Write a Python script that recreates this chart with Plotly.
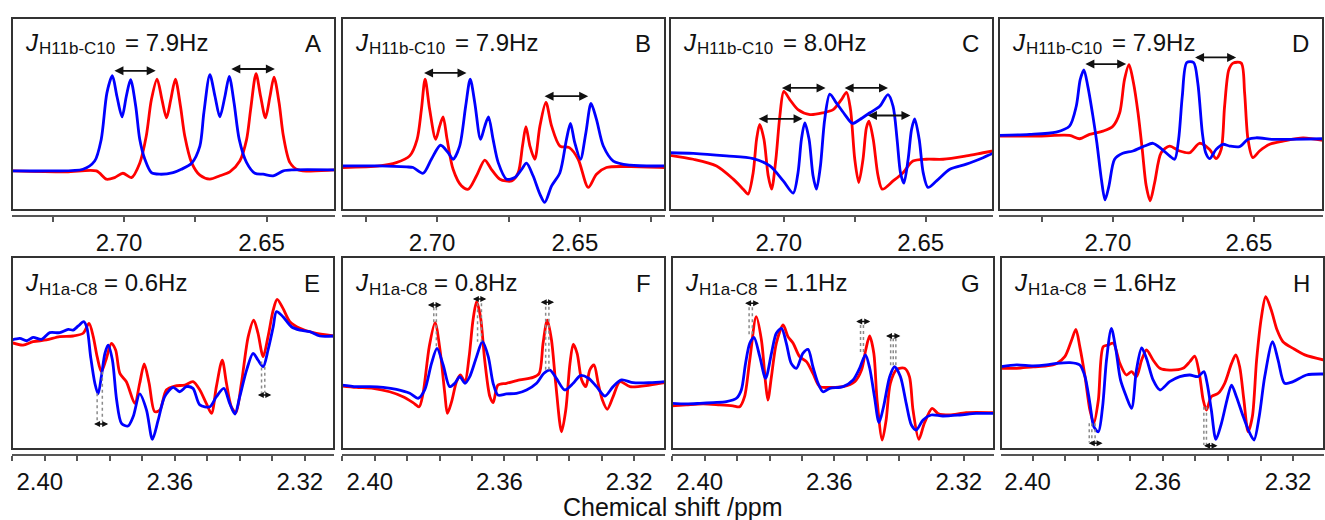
import plotly.graph_objects as go

# ---------------- data (ppm, relative intensity) ----------------
A_blue_x = [2.7393, 2.7261, 2.7144, 2.7103, 2.7080, 2.7060, 2.7041, 2.7025, 2.7007, 2.6992, 2.6977, 2.6959, 2.6945, 2.6927, 2.6904, 2.6875, 2.6828, 2.6799, 2.6763, 2.6734, 2.6720, 2.6699, 2.6681, 2.6664, 2.6646, 2.6631, 2.6614, 2.6596, 2.6570, 2.6541, 2.6512, 2.6477, 2.6441, 2.6406, 2.6260]
A_blue_y = [22.4, 22.4, 23.2, 27.4, 38.4, 62.0, 70.7, 60.3, 49.8, 60.3, 68.7, 55.2, 38.4, 28.3, 21.5, 20.7, 21.5, 23.2, 26.3, 35.0, 51.9, 71.2, 60.3, 49.8, 60.3, 70.4, 56.9, 38.4, 26.6, 21.2, 20.7, 19.9, 22.4, 22.9, 22.9]
A_red_x = [2.7393, 2.7203, 2.7097, 2.7062, 2.7033, 2.7004, 2.6974, 2.6945, 2.6922, 2.6904, 2.6884, 2.6867, 2.6851, 2.6836, 2.6820, 2.6802, 2.6787, 2.6763, 2.6734, 2.6699, 2.6664, 2.6629, 2.6594, 2.6570, 2.6556, 2.6537, 2.6521, 2.6504, 2.6488, 2.6474, 2.6456, 2.6441, 2.6418, 2.6389, 2.6260]
A_red_y = [22.4, 21.9, 22.4, 18.2, 19.0, 21.2, 19.0, 26.3, 40.1, 58.6, 69.0, 58.6, 49.3, 58.6, 69.0, 55.2, 40.1, 26.6, 20.2, 18.2, 19.9, 21.9, 27.4, 38.4, 53.5, 71.7, 60.3, 49.3, 60.3, 70.0, 56.9, 40.1, 26.6, 22.9, 22.9]

B_blue_x = [2.7333, 2.7201, 2.7107, 2.7084, 2.7049, 2.7020, 2.6988, 2.6961, 2.6944, 2.6921, 2.6900, 2.6884, 2.6868, 2.6848, 2.6833, 2.6820, 2.6804, 2.6786, 2.6757, 2.6728, 2.6704, 2.6687, 2.6664, 2.6640, 2.6623, 2.6599, 2.6570, 2.6547, 2.6533, 2.6518, 2.6498, 2.6479, 2.6461, 2.6442, 2.6418, 2.6383, 2.6325, 2.6202]
B_blue_y = [24.9, 24.9, 24.4, 24.1, 21.2, 28.3, 35.4, 31.6, 28.3, 35.0, 55.2, 69.0, 56.9, 38.4, 45.1, 49.8, 38.4, 26.6, 18.2, 19.0, 23.2, 26.3, 19.9, 10.6, 6.4, 14.8, 21.5, 38.4, 46.5, 36.7, 28.3, 41.8, 56.6, 48.5, 35.0, 27.4, 25.3, 24.9]
B_red_x = [2.7333, 2.7201, 2.7143, 2.7096, 2.7070, 2.7055, 2.7042, 2.7026, 2.7005, 2.6991, 2.6979, 2.6965, 2.6944, 2.6915, 2.6891, 2.6862, 2.6833, 2.6810, 2.6780, 2.6739, 2.6716, 2.6701, 2.6689, 2.6675, 2.6658, 2.6640, 2.6619, 2.6599, 2.6570, 2.6537, 2.6506, 2.6471, 2.6442, 2.6407, 2.6325, 2.6202]
B_red_y = [24.1, 24.9, 26.6, 30.0, 38.4, 53.5, 69.0, 53.5, 38.4, 45.1, 49.8, 38.4, 23.2, 14.8, 13.1, 19.9, 27.9, 23.2, 18.2, 17.3, 21.5, 35.0, 44.8, 35.0, 28.3, 45.1, 57.2, 45.1, 35.0, 34.2, 28.3, 14.0, 20.7, 24.1, 24.6, 24.1]

C_blue_x = [2.7401, 2.7319, 2.7202, 2.7108, 2.7049, 2.7002, 2.6967, 2.6950, 2.6938, 2.6926, 2.6911, 2.6897, 2.6885, 2.6871, 2.6856, 2.6838, 2.6815, 2.6785, 2.6758, 2.6732, 2.6697, 2.6662, 2.6633, 2.6615, 2.6601, 2.6589, 2.6577, 2.6562, 2.6550, 2.6539, 2.6523, 2.6509, 2.6492, 2.6462, 2.6415, 2.6357, 2.6298, 2.6263]
C_blue_y = [31.6, 31.3, 30.0, 28.6, 24.9, 17.3, 11.1, 21.5, 38.4, 46.8, 38.4, 19.9, 13.1, 24.9, 48.5, 61.4, 56.9, 51.0, 46.5, 48.5, 51.9, 55.2, 61.1, 55.2, 38.4, 21.5, 16.2, 28.3, 43.4, 48.8, 38.4, 21.5, 14.0, 17.3, 23.2, 25.8, 29.1, 31.3]
C_red_x = [2.7401, 2.7319, 2.7237, 2.7178, 2.7143, 2.7126, 2.7108, 2.7096, 2.7085, 2.7070, 2.7055, 2.7043, 2.7028, 2.7014, 2.7000, 2.6979, 2.6950, 2.6908, 2.6862, 2.6826, 2.6797, 2.6779, 2.6765, 2.6750, 2.6736, 2.6721, 2.6709, 2.6700, 2.6685, 2.6668, 2.6653, 2.6615, 2.6580, 2.6545, 2.6498, 2.6439, 2.6357, 2.6298, 2.6263]
C_red_y = [30.3, 28.3, 24.9, 18.2, 13.1, 10.6, 21.5, 38.4, 46.0, 38.4, 19.9, 13.1, 28.3, 50.2, 62.8, 58.6, 53.5, 51.0, 51.9, 53.5, 58.6, 62.3, 53.5, 28.3, 16.5, 28.3, 44.3, 47.6, 38.4, 19.9, 13.1, 17.3, 21.5, 27.4, 28.3, 28.3, 30.0, 31.6, 32.5]

D_blue_x = [2.7404, 2.7296, 2.7201, 2.7154, 2.7130, 2.7116, 2.7103, 2.7089, 2.7071, 2.7057, 2.7041, 2.7028, 2.7014, 2.6994, 2.6965, 2.6929, 2.6888, 2.6858, 2.6829, 2.6799, 2.6781, 2.6767, 2.6754, 2.6738, 2.6714, 2.6699, 2.6683, 2.6671, 2.6657, 2.6634, 2.6610, 2.6586, 2.6551, 2.6521, 2.6492, 2.6433, 2.6374, 2.6255]
D_blue_y = [40.4, 40.9, 42.1, 45.1, 55.2, 68.7, 73.7, 65.3, 50.2, 36.7, 18.2, 7.7, 14.8, 28.3, 31.3, 32.5, 35.0, 36.4, 33.7, 30.0, 28.3, 38.4, 60.3, 77.4, 77.4, 67.0, 41.8, 31.6, 28.6, 33.3, 35.9, 35.0, 34.7, 38.4, 39.2, 38.4, 38.4, 38.7]
D_red_x = [2.7404, 2.7260, 2.7154, 2.7118, 2.7083, 2.7035, 2.7000, 2.6976, 2.6959, 2.6943, 2.6927, 2.6911, 2.6896, 2.6882, 2.6868, 2.6852, 2.6829, 2.6799, 2.6764, 2.6728, 2.6693, 2.6657, 2.6634, 2.6616, 2.6604, 2.6589, 2.6574, 2.6545, 2.6533, 2.6521, 2.6504, 2.6480, 2.6444, 2.6397, 2.6326, 2.6255]
D_red_y = [40.1, 40.1, 40.4, 38.7, 40.9, 42.6, 45.1, 51.9, 68.7, 76.3, 67.0, 51.9, 33.3, 14.8, 7.2, 16.5, 31.6, 35.0, 32.5, 31.6, 36.4, 33.3, 28.6, 33.3, 55.2, 73.7, 77.1, 77.1, 62.0, 38.4, 29.1, 32.5, 35.9, 37.5, 39.2, 37.9]

E_blue_x = [2.4101, 2.4077, 2.4056, 2.4036, 2.4010, 2.3985, 2.3954, 2.3928, 2.3913, 2.3897, 2.3880, 2.3870, 2.3859, 2.3846, 2.3836, 2.3826, 2.3815, 2.3805, 2.3792, 2.3779, 2.3764, 2.3744, 2.3728, 2.3708, 2.3687, 2.3669, 2.3651, 2.3631, 2.3605, 2.3585, 2.3564, 2.3544, 2.3523, 2.3492, 2.3472, 2.3449, 2.3431, 2.3415, 2.3400, 2.3379, 2.3359, 2.3344, 2.3328, 2.3313, 2.3297, 2.3287, 2.3267, 2.3241, 2.3215, 2.3185, 2.3154, 2.3110]
E_blue_y = [57.9, 58.7, 57.5, 59.2, 58.2, 61.6, 61.6, 63.3, 62.9, 65.0, 67.2, 63.8, 49.4, 35.9, 30.5, 39.3, 51.1, 55.3, 47.7, 27.4, 15.6, 14.2, 19.0, 30.5, 22.3, 7.4, 17.3, 29.1, 33.8, 31.6, 34.2, 33.3, 24.9, 24.0, 29.1, 33.3, 25.7, 20.3, 29.1, 42.6, 51.1, 47.7, 44.3, 52.8, 64.6, 72.3, 69.7, 64.6, 62.9, 62.1, 59.9, 59.9]
E_red_x = [2.4101, 2.4067, 2.4036, 2.3995, 2.3954, 2.3913, 2.3882, 2.3864, 2.3851, 2.3839, 2.3826, 2.3812, 2.3795, 2.3782, 2.3769, 2.3749, 2.3723, 2.3708, 2.3694, 2.3679, 2.3662, 2.3646, 2.3626, 2.3600, 2.3569, 2.3544, 2.3523, 2.3503, 2.3487, 2.3472, 2.3454, 2.3441, 2.3426, 2.3412, 2.3395, 2.3374, 2.3357, 2.3344, 2.3328, 2.3313, 2.3297, 2.3285, 2.3267, 2.3246, 2.3215, 2.3174, 2.3110]
E_red_y = [56.5, 55.3, 57.0, 57.9, 59.6, 59.9, 61.3, 66.3, 59.6, 49.4, 41.8, 47.7, 56.2, 52.8, 40.9, 36.7, 25.7, 35.9, 45.7, 35.9, 21.5, 22.3, 32.5, 34.5, 35.0, 36.7, 32.5, 25.7, 20.6, 34.2, 47.7, 35.9, 24.0, 21.0, 35.9, 59.6, 68.0, 61.3, 49.4, 59.6, 73.1, 78.5, 73.9, 67.2, 63.8, 61.6, 59.9]

F_blue_x = [2.4101, 2.4057, 2.4015, 2.3974, 2.3933, 2.3892, 2.3866, 2.3846, 2.3825, 2.3808, 2.3789, 2.3769, 2.3753, 2.3738, 2.3722, 2.3707, 2.3686, 2.3668, 2.3650, 2.3635, 2.3620, 2.3594, 2.3563, 2.3532, 2.3501, 2.3479, 2.3460, 2.3440, 2.3414, 2.3388, 2.3366, 2.3342, 2.3316, 2.3290, 2.3265, 2.3239, 2.3203, 2.3152, 2.3105]
F_blue_y = [35.0, 34.2, 34.2, 33.8, 32.8, 30.8, 28.3, 32.5, 46.0, 53.6, 45.2, 34.2, 35.9, 39.3, 35.9, 39.3, 49.4, 57.0, 49.4, 35.9, 29.9, 30.5, 30.8, 32.5, 35.9, 40.9, 42.6, 38.4, 32.5, 35.9, 39.8, 38.6, 34.2, 29.4, 34.2, 37.6, 36.2, 36.2, 36.7]
F_red_x = [2.4101, 2.4057, 2.4005, 2.3954, 2.3913, 2.3882, 2.3863, 2.3851, 2.3832, 2.3814, 2.3799, 2.3784, 2.3776, 2.3763, 2.3748, 2.3736, 2.3722, 2.3709, 2.3697, 2.3686, 2.3674, 2.3661, 2.3645, 2.3635, 2.3620, 2.3594, 2.3553, 2.3512, 2.3493, 2.3481, 2.3468, 2.3455, 2.3442, 2.3424, 2.3411, 2.3398, 2.3388, 2.3376, 2.3362, 2.3349, 2.3337, 2.3324, 2.3311, 2.3298, 2.3283, 2.3265, 2.3244, 2.3213, 2.3152, 2.3105]
F_red_y = [34.5, 33.8, 33.3, 31.6, 29.1, 26.1, 24.0, 30.8, 54.5, 66.7, 53.1, 30.8, 20.6, 26.6, 36.7, 40.1, 36.7, 49.4, 68.0, 77.3, 69.7, 47.7, 29.1, 26.1, 35.0, 35.9, 37.6, 38.9, 40.9, 56.2, 68.0, 57.9, 35.9, 11.3, 22.3, 46.0, 55.7, 51.1, 37.6, 34.2, 42.6, 45.2, 35.9, 27.4, 22.7, 29.1, 36.7, 34.2, 35.0, 36.2]

G_blue_x = [2.4101, 2.4057, 2.4015, 2.3974, 2.3933, 2.3902, 2.3887, 2.3874, 2.3861, 2.3848, 2.3830, 2.3812, 2.3794, 2.3779, 2.3763, 2.3748, 2.3733, 2.3717, 2.3697, 2.3681, 2.3666, 2.3650, 2.3635, 2.3614, 2.3573, 2.3542, 2.3522, 2.3504, 2.3491, 2.3476, 2.3462, 2.3448, 2.3429, 2.3414, 2.3396, 2.3378, 2.3362, 2.3347, 2.3326, 2.3301, 2.3265, 2.3213, 2.3162, 2.3107]
G_blue_y = [25.7, 25.4, 25.7, 26.1, 26.6, 28.3, 32.5, 46.0, 56.2, 59.2, 49.4, 38.4, 51.1, 61.3, 63.8, 56.2, 46.0, 43.5, 51.1, 53.1, 44.3, 35.9, 31.6, 33.3, 34.2, 37.6, 43.5, 50.3, 43.8, 29.1, 15.9, 24.0, 39.3, 44.3, 39.3, 25.7, 14.7, 12.2, 17.3, 19.8, 19.3, 19.8, 20.6, 20.6]
G_red_x = [2.4101, 2.4057, 2.4005, 2.3954, 2.3913, 2.3892, 2.3877, 2.3861, 2.3841, 2.3825, 2.3812, 2.3805, 2.3794, 2.3779, 2.3758, 2.3743, 2.3727, 2.3707, 2.3686, 2.3666, 2.3645, 2.3614, 2.3573, 2.3537, 2.3516, 2.3503, 2.3491, 2.3478, 2.3468, 2.3452, 2.3440, 2.3427, 2.3407, 2.3383, 2.3368, 2.3357, 2.3339, 2.3322, 2.3298, 2.3280, 2.3244, 2.3193, 2.3107]
G_red_y = [24.4, 24.9, 25.4, 24.9, 24.4, 24.0, 29.1, 47.7, 69.7, 57.9, 35.9, 27.4, 39.3, 56.2, 65.5, 59.6, 56.2, 49.4, 46.9, 40.9, 34.2, 33.8, 34.2, 36.7, 42.6, 52.8, 59.9, 51.1, 27.4, 7.1, 17.3, 35.9, 43.0, 43.5, 39.3, 22.3, 7.4, 15.6, 23.2, 20.6, 19.8, 21.0, 21.0]

H_blue_x = [2.4097, 2.4049, 2.3998, 2.3957, 2.3926, 2.3885, 2.3855, 2.3839, 2.3824, 2.3812, 2.3798, 2.3785, 2.3773, 2.3758, 2.3744, 2.3730, 2.3712, 2.3696, 2.3681, 2.3665, 2.3650, 2.3630, 2.3609, 2.3579, 2.3548, 2.3517, 2.3492, 2.3474, 2.3464, 2.3451, 2.3437, 2.3420, 2.3403, 2.3389, 2.3374, 2.3353, 2.3335, 2.3320, 2.3304, 2.3287, 2.3263, 2.3246, 2.3226, 2.3200, 2.3159, 2.3105]
H_blue_y = [44.3, 45.2, 44.7, 45.2, 46.0, 46.4, 45.2, 39.3, 25.7, 13.9, 11.3, 24.0, 47.7, 63.8, 52.8, 37.6, 29.1, 23.2, 42.6, 53.8, 48.4, 37.6, 32.5, 36.7, 39.3, 40.1, 39.3, 41.8, 35.9, 22.3, 7.4, 15.6, 27.4, 35.0, 29.1, 19.0, 11.3, 7.1, 19.0, 39.3, 57.0, 47.7, 35.9, 36.7, 40.1, 40.6]
H_red_x = [2.4097, 2.4049, 2.3998, 2.3957, 2.3926, 2.3901, 2.3880, 2.3867, 2.3855, 2.3839, 2.3824, 2.3812, 2.3798, 2.3783, 2.3768, 2.3752, 2.3732, 2.3712, 2.3696, 2.3681, 2.3665, 2.3650, 2.3630, 2.3609, 2.3579, 2.3538, 2.3517, 2.3502, 2.3488, 2.3476, 2.3466, 2.3451, 2.3430, 2.3410, 2.3389, 2.3376, 2.3364, 2.3351, 2.3338, 2.3325, 2.3312, 2.3297, 2.3284, 2.3267, 2.3249, 2.3231, 2.3200, 2.3164, 2.3105]
H_red_y = [43.5, 43.5, 44.3, 44.7, 46.0, 49.4, 57.9, 63.3, 54.5, 39.3, 22.3, 15.6, 27.4, 54.5, 55.3, 56.2, 46.0, 40.1, 41.8, 39.3, 47.7, 52.8, 47.7, 43.5, 42.6, 43.5, 46.9, 49.7, 40.9, 27.4, 22.3, 29.1, 30.8, 35.9, 46.0, 50.3, 44.3, 27.4, 11.3, 19.0, 47.7, 69.7, 79.9, 73.1, 62.9, 57.0, 53.6, 50.3, 47.7]

# coupling-constant labels
TOP_SUB = "H11b-C10"
BOTTOM_SUB = "H1a-C8"
J_VALUES = ["7.9Hz", "7.9Hz", "8.0Hz", "7.9Hz", "0.6Hz", "0.8Hz", "1.1Hz", "1.6Hz"]
PANEL_LETTERS = ["A", "B", "C", "D", "E", "F", "G", "H"]

# double arrows: (ppm start, ppm end, intensity)
ARROWS = {
    "A": [(2.7039, 2.6889, 73.2), (2.6629, 2.6471, 74.1)],
    "B": [(2.7051, 2.6897, 72.1), (2.6629, 2.6471, 60.3)],
    "C": [(2.7012, 2.6853, 64.5), (2.6791, 2.6633, 64.5), (2.7094, 2.6934, 48.8), (2.6709, 2.6554, 50.5)],
    "D": [(2.7103, 2.6953, 76.6), (2.6714, 2.6563, 80.0)],
    "E": [(2.3853, 2.3805, 15.2), (2.3349, 2.3303, 29.9)],
    "F": [(2.3841, 2.3794, 75.6), (2.3702, 2.3656, 78.7), (2.3493, 2.3447, 77.0)],
    "G": [(2.3880, 2.3832, 76.5), (2.3537, 2.3489, 67.2), (2.3445, 2.3396, 59.9)],
    "H": [(2.3832, 2.3785, 5.4), (2.3478, 2.3432, 4.2)],
}
# dotted guides: (ppm, intensity from, intensity to)
GUIDES = {
    "E": [(2.3839, 30.8, 16.9), (2.3823, 41.8, 16.9), (2.3333, 46.9, 31.1), (2.3323, 44.3, 31.1)],
    "F": [(2.3818, 74.5, 65.6), (2.3810, 74.5, 53.6), (2.3683, 76.5, 57.0), (2.3671, 76.5, 57.0), (2.3473, 74.8, 42.6), (2.3463, 74.8, 42.6)],
    "G": [(2.3863, 74.5, 59.6), (2.3853, 74.5, 59.6), (2.3519, 65.5, 51.1), (2.3510, 65.5, 51.1), (2.3426, 58.7, 44.3), (2.3418, 58.7, 44.3), (2.3410, 58.7, 44.3)],
    "H": [(2.3826, 15.6, 5.8), (2.3818, 15.6, 5.8), (2.3808, 15.6, 5.8), (2.3474, 24.0, 4.6), (2.3466, 24.0, 4.6)],
}

TOP_TICKS = [2.725, 2.70, 2.675, 2.65, 2.625]
TOP_TICKTEXT = ["", "2.70", "", "2.65", ""]
BOTTOM_TICKS = [2.41, 2.40, 2.39, 2.38, 2.37, 2.36, 2.35, 2.34, 2.33, 2.32]
BOTTOM_TICKTEXT = ["", "2.40", "", "", "", "2.36", "", "", "", "2.32"]

X_RANGES = {
    "A": [2.7393, 2.6260], "B": [2.7333, 2.6202], "C": [2.7401, 2.6263], "D": [2.7404, 2.6255],
    "E": [2.4101, 2.3110], "F": [2.4101, 2.3105], "G": [2.4101, 2.3107], "H": [2.4097, 2.3105],
}

# ---------------- layout geometry (pixels) ----------------
W, H = 1325, 520
FONT = "Liberation Sans, Arial, sans-serif"
BOX_X = {"A": (12, 335), "B": (342, 665), "C": (670, 993), "D": (999, 1323),
         "E": (12, 334), "F": (342, 665), "G": (672, 994), "H": (1001, 1324)}
TOP_ROW = dict(top=18, axis=215, bottom=210, cy=42.7, cy_sub=48.8, j=11, sub=25, eq=111)
BOT_ROW = dict(top=257, axis=454, bottom=449, cy=282.5, cy_sub=289.0, j=11, sub=25, eq=90)

series = {
    "A": (A_blue_x, A_blue_y, A_red_x, A_red_y), "B": (B_blue_x, B_blue_y, B_red_x, B_red_y),
    "C": (C_blue_x, C_blue_y, C_red_x, C_red_y), "D": (D_blue_x, D_blue_y, D_red_x, D_red_y),
    "E": (E_blue_x, E_blue_y, E_red_x, E_red_y), "F": (F_blue_x, F_blue_y, F_red_x, F_red_y),
    "G": (G_blue_x, G_blue_y, G_red_x, G_red_y), "H": (H_blue_x, H_blue_y, H_red_x, H_red_y),
}
for k, (bx, by, rx, ry) in series.items():
    assert len(bx) == len(by), (k, "blue", len(bx), len(by))
    assert len(rx) == len(ry), (k, "red", len(rx), len(ry))

RED = "#ff0000"
BLUE = "#0000ff"

fig = go.Figure()
layout = {}
annotations = []
shapes = []

for i, key in enumerate(PANEL_LETTERS):
    n = i + 1
    sfx = "" if n == 1 else str(n)
    xr, yr = "x" + sfx, "y" + sfx
    row = TOP_ROW if i < 4 else BOT_ROW
    l, r = BOX_X[key]
    top, axis_y, bottom = row["top"], row["axis"], row["bottom"]
    tickvals = TOP_TICKS if i < 4 else BOTTOM_TICKS
    ticktext = TOP_TICKTEXT if i < 4 else BOTTOM_TICKTEXT

    layout["xaxis" + sfx] = dict(
        domain=[l / W, r / W], range=X_RANGES[key], anchor=yr,
        showline=True, linecolor="#555", linewidth=1.5, mirror=False,
        ticks="outside", ticklen=5, tickwidth=1.5, tickcolor="#555",
        tickmode="array", tickvals=tickvals, ticktext=ticktext,
        tickfont=dict(family=FONT, size=24, color="#111"),
        ticklabelshift=5,
        showgrid=False, zeroline=False, fixedrange=True,
    )
    layout["yaxis" + sfx] = dict(
        domain=[1 - axis_y / H, 1 - top / H], range=[0, 100], anchor=xr,
        visible=False, showgrid=False, zeroline=False, fixedrange=True,
    )

    bx, by, rx, ry = series[key]
    fig.add_trace(go.Scatter(x=rx, y=ry, mode="lines", xaxis=xr, yaxis=yr, showlegend=False,
                             line=dict(color=RED, width=2.8, shape="spline", smoothing=0.8)))
    fig.add_trace(go.Scatter(x=bx, y=by, mode="lines", xaxis=xr, yaxis=yr, showlegend=False,
                             line=dict(color=BLUE, width=2.8, shape="spline", smoothing=0.8)))

    # frame box
    y0 = (axis_y - bottom) / (axis_y - top)
    shapes.append(dict(type="rect", xref=xr + " domain", yref=yr + " domain",
                       x0=0, x1=1, y0=y0, y1=1, layer="above",
                       line=dict(color="#333", width=2), fillcolor="rgba(0,0,0,0)"))

    # dotted guides
    for gx, g0, g1 in GUIDES.get(key, []):
        shapes.append(dict(type="line", xref=xr, yref=yr, x0=gx, x1=gx, y0=g0, y1=g1,
                           line=dict(color="#8a8a8a", width=1.5, dash="dot")))

    # double arrows
    small = i >= 4
    for xs, xe, ay in ARROWS[key]:
        annotations.append(dict(xref=xr, yref=yr, axref=xr, ayref=yr, x=xe, y=ay, ax=xs, ay=ay,
                                text="", showarrow=True, arrowhead=2, arrowside="end+start",
                                arrowsize=0.8 if small else 1.0, arrowwidth=1.5 if small else 1.8,
                                arrowcolor="#111", standoff=0, startstandoff=0))

    # J label
    sub = TOP_SUB if i < 4 else BOTTOM_SUB
    annotations.append(dict(xref="paper", yref="paper", x=(l + row["j"]) / W, y=1 - row["cy"] / H,
                            xanchor="left", yanchor="middle", showarrow=False, text="<i>J</i>",
                            font=dict(family=FONT, size=24, color="#111")))
    annotations.append(dict(xref="paper", yref="paper", x=(l + row["sub"]) / W, y=1 - row["cy_sub"] / H,
                            xanchor="left", yanchor="middle", showarrow=False, text=sub,
                            font=dict(family=FONT, size=17, color="#111")))
    annotations.append(dict(xref="paper", yref="paper", x=(l + row["eq"]) / W, y=1 - row["cy"] / H,
                            xanchor="left", yanchor="middle", showarrow=False, text="= " + J_VALUES[i],
                            font=dict(family=FONT, size=24, color="#111")))
    # panel letter
    annotations.append(dict(xref="paper", yref="paper", x=(r - 12) / W, y=1 - (row["cy"] + 1) / H,
                            xanchor="right", yanchor="middle", showarrow=False, text=key,
                            font=dict(family=FONT, size=24, color="#111")))

annotations.append(dict(xref="paper", yref="paper", x=673 / W, y=1 - 507 / H,
                        xanchor="center", yanchor="middle", showarrow=False,
                        text="Chemical shift /ppm", font=dict(family=FONT, size=25, color="#111")))

fig.update_layout(**layout)
fig.update_layout(width=W, height=H, margin=dict(l=0, r=0, t=0, b=0),
                  paper_bgcolor="white", plot_bgcolor="white",
                  annotations=annotations, shapes=shapes, showlegend=False)
fig.write_html("out.html")
